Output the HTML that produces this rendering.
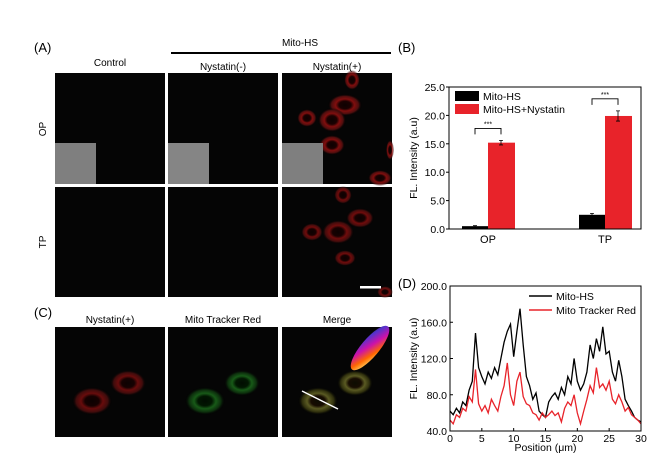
<!DOCTYPE html>
<html><head><meta charset="utf-8"><style>
html,body{margin:0;padding:0;background:#fff}
svg{display:block;font-family:"Liberation Sans",Arial,sans-serif}
</style></head><body>
<svg id="fig" width="663" height="462" viewBox="0 0 663 462">
<defs>
<radialGradient id="cell" cx="50%" cy="50%" r="50%">
<stop offset="0" stop-color="#100"/><stop offset="0.35" stop-color="#200"/><stop offset="0.55" stop-color="#a11"/><stop offset="0.8" stop-color="#611"/><stop offset="1" stop-color="#000" stop-opacity="0"/></radialGradient>
<radialGradient id="cellg" cx="50%" cy="50%" r="50%">
<stop offset="0" stop-color="#010"/><stop offset="0.35" stop-color="#020"/><stop offset="0.55" stop-color="#282"/><stop offset="0.8" stop-color="#141"/><stop offset="1" stop-color="#000" stop-opacity="0"/></radialGradient>
<radialGradient id="celly" cx="50%" cy="50%" r="50%">
<stop offset="0" stop-color="#110"/><stop offset="0.35" stop-color="#210"/><stop offset="0.55" stop-color="#883"/><stop offset="0.8" stop-color="#441"/><stop offset="1" stop-color="#000" stop-opacity="0"/></radialGradient>
<linearGradient id="heat" x1="0" y1="1" x2="1" y2="0">
<stop offset="0" stop-color="#ff8"/><stop offset="0.3" stop-color="#f60"/><stop offset="0.55" stop-color="#c1a"/><stop offset="0.8" stop-color="#53c"/><stop offset="1" stop-color="#225"/></linearGradient>
</defs>

<text x="34" y="52" font-size="13">(A)</text>
<text x="300" y="46" font-size="10" text-anchor="middle">Mito-HS</text>
<line x1="171" y1="53" x2="391" y2="53" stroke="#000" stroke-width="2"/>
<text x="110" y="66" font-size="10" text-anchor="middle">Control</text>
<text x="223" y="70" font-size="10" text-anchor="middle">Nystatin(-)</text>
<text x="337" y="70" font-size="10" text-anchor="middle">Nystatin(+)</text>
<text x="0" y="0" font-size="10" text-anchor="middle" transform="translate(46,129) rotate(-90)">OP</text>
<text x="0" y="0" font-size="10" text-anchor="middle" transform="translate(46,242) rotate(-90)">TP</text>

<g><rect x="55" y="73" width="110" height="111" fill="#050505"/><rect x="55" y="143" width="41" height="41" fill="#7f7f7f"/></g>
<g><rect x="168" y="73" width="110" height="111" fill="#050505"/><rect x="168" y="143" width="41" height="41" fill="#858585"/></g>
<g><rect x="282" y="73" width="110" height="111" fill="#050505"/>
<g opacity="0.75"><ellipse cx="345" cy="105" rx="17" ry="11" fill="url(#cell)"/><ellipse cx="352" cy="80" rx="8" ry="10" fill="url(#cell)"/><ellipse cx="332" cy="120" rx="14" ry="12" fill="url(#cell)"/><ellipse cx="307" cy="118" rx="10" ry="9" fill="url(#cell)"/><ellipse cx="332" cy="145" rx="13" ry="10" fill="url(#cell)"/><ellipse cx="380" cy="178" rx="12" ry="8" fill="url(#cell)"/><ellipse cx="390" cy="150" rx="4" ry="10" fill="url(#cell)"/></g>
<rect x="282" y="143" width="41" height="41" fill="#7f7f7f"/></g>
<g><rect x="55" y="187" width="110" height="110" fill="#050505"/></g>
<g><rect x="168" y="187" width="110" height="110" fill="#050505"/></g>
<g><rect x="282" y="187" width="110" height="110" fill="#050505"/>
<g opacity="0.65"><ellipse cx="343" cy="195" rx="9" ry="9" fill="url(#cell)"/><ellipse cx="360" cy="218" rx="14" ry="10" fill="url(#cell)"/><ellipse cx="338" cy="232" rx="16" ry="12" fill="url(#cell)"/><ellipse cx="312" cy="232" rx="11" ry="9" fill="url(#cell)"/><ellipse cx="345" cy="258" rx="11" ry="8" fill="url(#cell)"/><ellipse cx="385" cy="292" rx="8" ry="6" fill="url(#cell)"/></g>
<rect x="360" y="286" width="21" height="2.5" fill="#fff"/></g>

<text x="34" y="317" font-size="13">(C)</text>
<text x="110" y="323" font-size="10" text-anchor="middle">Nystatin(+)</text>
<text x="223" y="323" font-size="10" text-anchor="middle">Mito Tracker Red</text>
<text x="337" y="323" font-size="10" text-anchor="middle">Merge</text>
<g><rect x="55" y="327" width="110" height="110" fill="#050505"/>
<g opacity="0.6"><ellipse cx="92" cy="401" rx="20" ry="14" fill="url(#cell)"/><ellipse cx="128" cy="383" rx="18" ry="13" fill="url(#cell)"/></g></g>
<g><rect x="168" y="327" width="110" height="110" fill="#050505"/>
<g opacity="0.65"><ellipse cx="205" cy="401" rx="20" ry="14" fill="url(#cellg)"/><ellipse cx="242" cy="383" rx="18" ry="13" fill="url(#cellg)"/></g></g>
<g><rect x="282" y="327" width="110" height="110" fill="#050505"/>
<g opacity="0.65"><ellipse cx="318" cy="401" rx="20" ry="14" fill="url(#celly)"/><ellipse cx="355" cy="383" rx="18" ry="13" fill="url(#celly)"/></g>
<ellipse cx="370" cy="348" rx="28" ry="9" transform="rotate(-50 370 348)" fill="url(#heat)"/>
<line x1="302" y1="391" x2="338" y2="409" stroke="#fff" stroke-width="1.5"/></g>

<text x="398" y="52" font-size="13">(B)</text>
<text x="398" y="288" font-size="13">(D)</text>

<g id="chartB"></g>
<g id="chartD"></g>
</svg>
<script>
const NS="http://www.w3.org/2000/svg";
function mk(parent,tag,attrs,txt){const e=document.createElementNS(NS,tag);for(const k in attrs)e.setAttribute(k,attrs[k]);if(txt!==undefined)e.textContent=txt;parent.appendChild(e);return e;}

const bCategories=["OP","TP"];
const bMitoHS=[0.5,2.5];
const bMitoHSErr=[0.1,0.25];
const bNystatin=[15.2,19.9];
const bNystatinErr=[0.4,0.9];
const bTicks=[0,5,10,15,20,25];
const bTickLabels=["0.0","5.0","10.0","15.0","20.0","25.0"];

const dPositions=[];for(let i=0;i<=60;i++)dPositions.push(i*0.5);
const dMitoHS=[62,58,65,60,72,68,85,95,148,110,100,92,105,98,110,102,120,138,150,158,122,150,175,135,100,90,75,82,62,58,55,72,78,82,75,88,80,100,92,120,95,85,92,105,135,120,142,128,155,125,128,105,95,118,100,75,68,62,55,52,50];
const dTracker=[52,48,58,55,65,62,78,72,108,70,62,68,60,75,68,62,78,90,115,80,68,95,105,78,70,68,60,58,52,60,55,58,62,57,60,50,65,72,68,80,60,48,62,75,90,82,110,88,92,85,95,75,70,80,72,62,66,58,55,52,48];
const dXTicks=[0,5,10,15,20,25,30];
const dXTickLabels=["0","5","10","15","20","25","30"];
const dYTicks=[40,80,120,160,200];
const dYTickLabels=["40.0","80.0","120.0","160.0","200.0"];

(function(){
 const g=document.getElementById('chartB');
 const L=449,R=641,T=87,B=229;
 const y=v=>B-(v/25)*(B-T);
 const catX=[488,605];
 const bw=26;
 bTicks.forEach((t,i)=>{
  const tk=mk(g,'line',{x1:L-3,x2:L,y1:y(t),y2:y(t),stroke:'#000'});
  
  const lb=mk(g,'text',{x:L-4,y:y(t)+4,'font-size':10.5,'text-anchor':'end'},bTickLabels[i]);
  
 });
 bCategories.forEach((c,i)=>{
  const cx=catX[i];
  const b1=mk(g,'rect',{x:cx-bw,y:y(bMitoHS[i]),width:bw,height:B-y(bMitoHS[i]),fill:'#000'});
  
  const b2=mk(g,'rect',{x:cx,y:y(bNystatin[i]),width:bw+1,height:B-y(bNystatin[i]),fill:'#e8232a'});
  
  [[cx-bw/2,bMitoHS[i],bMitoHSErr[i]],[cx+bw/2,bNystatin[i],bNystatinErr[i]]].forEach(([ex,v,e])=>{
   const eb=mk(g,'path',{d:`M${ex},${y(v+e)}V${y(v-e)}M${ex-2},${y(v+e)}h4M${ex-2},${y(v-e)}h4`,stroke:'#000','stroke-width':0.8,fill:'none'});
   
  });
  const top=y(bNystatin[i]+bNystatinErr[i])-12;
  const br=mk(g,'path',{d:`M${cx-bw/2},${top+6}V${top}H${cx+bw/2}V${top+6}`,stroke:'#000','stroke-width':0.9,fill:'none'});
  
  const st=mk(g,'text',{x:cx,y:top-2,'font-size':7,'text-anchor':'middle'},'***');
  
  const cl=mk(g,'text',{x:cx,y:B+14,'font-size':11,'text-anchor':'middle'},c);
  
 });
 const fr=mk(g,'rect',{x:L,y:T,width:R-L,height:B-T,fill:'none',stroke:'#000','stroke-width':1});
 
 const yt=mk(g,'text',{x:0,y:0,'font-size':10.5,'text-anchor':'middle',transform:`translate(417,${(T+B)/2}) rotate(-90)`},'FL. Intensity (a.u)');
 
 const l1=mk(g,'rect',{x:455,y:91,width:24,height:10,fill:'#000'});
 
 const t1=mk(g,'text',{x:483,y:100,'font-size':10.5},'Mito-HS');
 
 const l2=mk(g,'rect',{x:455,y:104,width:24,height:10,fill:'#e8232a'});
 
 const t2=mk(g,'text',{x:483,y:113,'font-size':10.5},'Mito-HS+Nystatin');
 
})();

(function(){
 const g=document.getElementById('chartD');
 const L=450,R=641,T=286,B=431;
 const x=v=>L+(v/30)*(R-L);
 const y=v=>B-((v-40)/160)*(B-T);
 dYTicks.forEach((t,i)=>{
  const tk=mk(g,'line',{x1:L,x2:L+3,y1:y(t),y2:y(t),stroke:'#000'});
  
  const lb=mk(g,'text',{x:L-3,y:y(t)+4,'font-size':10.5,'text-anchor':'end'},dYTickLabels[i]);
  
 });
 dXTicks.forEach((t,i)=>{
  const tk=mk(g,'line',{x1:x(t),x2:x(t),y1:B,y2:B-3,stroke:'#000'});
  
  const lb=mk(g,'text',{x:x(t),y:B+11,'font-size':10.5,'text-anchor':'middle'},dXTickLabels[i]);
  
 });
 const pts=arr=>arr.map((v,i)=>x(dPositions[i]).toFixed(1)+','+y(v).toFixed(1)).join(' ');
 const lb=mk(g,'polyline',{points:pts(dMitoHS),fill:'none',stroke:'#000','stroke-width':1.3});
 
 const lr=mk(g,'polyline',{points:pts(dTracker),fill:'none',stroke:'#e8232a','stroke-width':1.3});
 
 const fr=mk(g,'rect',{x:L,y:T,width:R-L,height:B-T,fill:'none',stroke:'#000','stroke-width':1});
 
 const xt=mk(g,'text',{x:(L+R)/2,y:B+20,'font-size':10.5,'text-anchor':'middle'},'Position (μm)');
 
 const yt=mk(g,'text',{x:0,y:0,'font-size':10.5,'text-anchor':'middle',transform:`translate(417,${(T+B)/2}) rotate(-90)`},'FL. Intensity (a.u)');
 
 const s1=mk(g,'line',{x1:529,x2:552,y1:296,y2:296,stroke:'#000','stroke-width':1.5});
 
 const t1=mk(g,'text',{x:556,y:300,'font-size':10.5},'Mito-HS');
 
 const s2=mk(g,'line',{x1:529,x2:552,y1:310,y2:310,stroke:'#e8232a','stroke-width':1.5});
 
 const t2=mk(g,'text',{x:556,y:314,'font-size':10.5},'Mito Tracker Red');
 
})();
</script>
</body></html>
